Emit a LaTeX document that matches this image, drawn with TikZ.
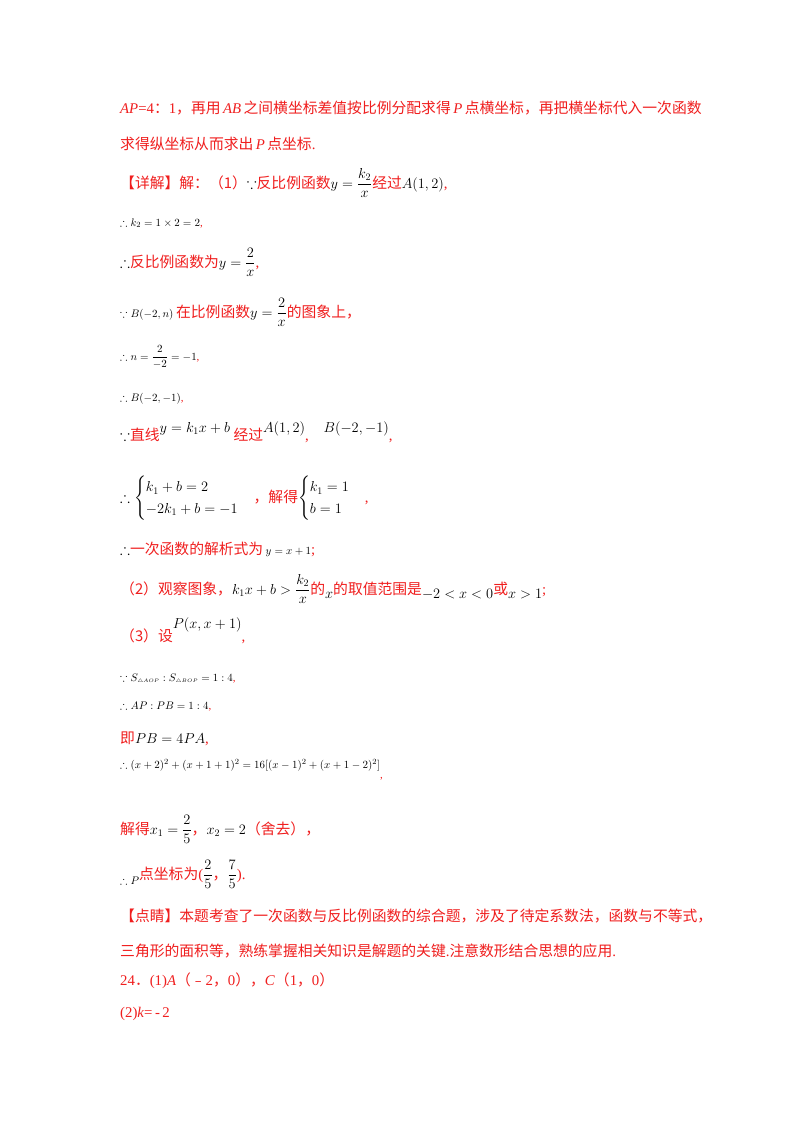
\documentclass[tikz,border=0pt]{standalone}
\usepackage{amsmath,amssymb}
\usepackage{fontspec}
\setmainfont{Liberation Serif}
\newfontfamily\cjk{Noto Sans CJK SC}
\definecolor{myred}{RGB}{240,30,30}
\newcommand\z[1]{{\cjk #1}}
\newcommand\R[1]{\textcolor{myred}{#1}}
\tikzset{ln/.style={anchor=base west,inner sep=0,font=\fontsize{14.8}{18}\selectfont},
 sm/.style={anchor=base west,inner sep=0,font=\fontsize{11}{14}\selectfont}}
\begin{document}
\begin{tikzpicture}[x=1pt,y=-1pt]
\useasboundingbox (0,0) rectangle (800,1132);
\fill[white] (0,0) rectangle (800,1132);
\node[ln] (l1) at (120,113) {\R{\textit{AP}=4\z{：}1\z{，再用}\,\textit{AB}\,\z{之间横坐标差值按比例分配求得}\,\textit{P}\,\z{点横坐标，再把横坐标代入一次函数}}};
\node[ln] (l2) at (120,149) {\R{\z{求得纵坐标从而求出}\,\textit{P}\,\z{点坐标}.}};
\node[ln] (l3) at (120,188) {\R{\z{【详解】解：（1）}}$\because$\R{\z{反比例函数}}$y=\dfrac{k_2}{x}$\R{\z{经过}}$A(1,2)$\R{,}};
\node[sm] (l4) at (120,226) {$\therefore k_2=1\times2=2$\R{,}};
\node[ln] (l5) at (120,267) {$\therefore$\R{\z{反比例函数为}}$y=\dfrac{2}{x}$\R{,}};
\node[sm] (l6) at (120,317) {$\because B(-2,n)$ {\fontsize{14.8}{18}\selectfont\R{\z{在比例函数}}$y=\dfrac{2}{x}$\R{\z{的图象上，}}}};
\node[sm] (l7) at (120,360) {$\therefore n=\dfrac{2}{-2}=-1$\R{,}};
\node[sm] (l8) at (120,401) {$\therefore B(-2,-1)$\R{,}};
\node[ln] (l9) at (120,440) {$\because$\R{\z{直线}}\raisebox{8pt}{$y=k_1x+b$}\R{\z{\ 经过}}\raisebox{8pt}{$A(1,2)$}\R{,}\quad\raisebox{8pt}{$B(-2,-1)$}\R{,}};
\node[ln] (l10) at (120,502) {$\therefore\begin{cases}k_1+b=2\\-2k_1+b=-1\end{cases}$\R{\z{，解得}}$\begin{cases}k_1=1\\b=1\end{cases}$\R{,}};
\node[ln] (l11) at (120,554) {$\therefore$\R{\z{一次函数的解析式为}}\,{\fontsize{11}{14}\selectfont$y=x+1$}\R{;}};
\node[ln] (l12) at (120,594) {\R{\z{（2）观察图象，}}$k_1x+b>\dfrac{k_2}{x}$\R{\z{的}}\raisebox{-4pt}{$x$}\R{\z{的取值范围是}}\raisebox{-4pt}{$-2<x<0$}\R{\z{或}}\raisebox{-4pt}{$x>1$}\R{;}};
\node[ln] (l13) at (120,641) {\R{\z{（3）设}}\raisebox{13pt}{$P(x,x+1)$}\R{,}};
\node[sm] (l14) at (120,681) {$\because S_{\scriptscriptstyle\triangle AOP}:S_{\scriptscriptstyle\triangle BOP}=1:4$\R{,}};
\node[sm] (l15) at (120,709) {$\therefore AP:PB=1:4$\R{,}};
\node[ln] (l16) at (120,743) {\R{\z{即}}$PB=4PA$\R{,}};
\node[sm] (l17) at (120,768) {$\therefore(x+2)^2+(x+1+1)^2=16[(x-1)^2+(x+1-2)^2]$\raisebox{-10pt}{\R{,}}};
\node[ln] (l18) at (120,834) {\R{\z{解得}}$x_1=\dfrac{2}{5}$\R{\z{，}}$x_2=2$\R{\z{（舍去），}}};
\node[ln] (l19) at (120,884) {{\fontsize{11}{14}\selectfont$\therefore P$}\raisebox{5pt}{\R{\z{点坐标为}(}$\dfrac{2}{5}$\R{\z{，}}$\dfrac{7}{5}$\R{).}}};
\node[ln] (l20) at (120,921) {\R{\z{【点睛】本题考查了一次函数与反比例函数的综合题，涉及了待定系数法，函数与不等式，}}};
\node[ln] (l21) at (120,956) {\R{\z{三角形的面积等，熟练掌握相关知识是解题的关键}.\z{注意数形结合思想的应用}.}};
\node[ln] (l22) at (120,985) {\R{24\z{．}(1)\textit{A}\z{（﹣}2\z{，}0\z{），}\textit{C}\z{（}1\z{，}0\z{）}}};
\node[ln] (l23) at (120,1017) {\R{(2)\textit{k}=\,-\,2}};
\end{tikzpicture}
\end{document}
